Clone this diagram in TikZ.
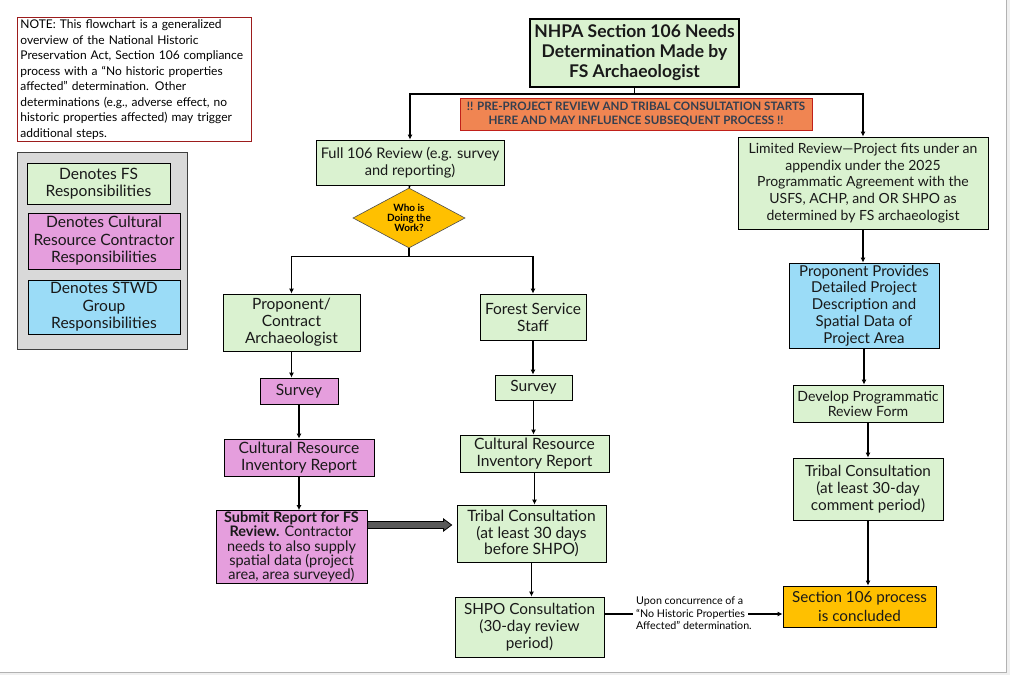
\documentclass[tikz,border=0pt]{standalone}
\usepackage{fontspec}
\setmainfont{Lato}
\usetikzlibrary{shapes.geometric,arrows.meta,calc}
\definecolor{fsgreen}{HTML}{DAF2D0}
\definecolor{crpink}{HTML}{E59EDD}
\definecolor{stblue}{HTML}{9BDCF7}
\definecolor{gold}{HTML}{FFC000}
\definecolor{bannerfill}{HTML}{F08552}
\definecolor{bannertxt}{HTML}{333F50}
\definecolor{bannerline}{HTML}{C0201A}
\definecolor{notered}{HTML}{9C1C1C}
\newcommand{\fsz}[2]{\fontsize{#1}{#2}\selectfont}
\begin{document}
\begin{tikzpicture}[x=1pt,y=-1pt,
  box/.style={draw=black, line width=0.8pt, align=center, inner sep=1pt, text=black!90},
  gbox/.style={box, fill=fsgreen},
  pbox/.style={box, fill=crpink},
  bbox/.style={box, fill=stblue},
  obox/.style={box, fill=gold},
  ln/.style={line width=1.5pt, draw=black},
  arr/.style={ln, -{Latex[length=5pt,width=5pt]}},
  sz/.style 2 args={minimum width=#1, minimum height=#2}
]
\useasboundingbox (0,0) rectangle (1010,675);
\fill[black!6] (0,0) rectangle (1010,675);
\fill[white] (0,0) rectangle (1006,672);
\draw[black!30, line width=1pt] (1006,0) -- (1006,672) -- (0,672);

% note
\node[draw=notered, line width=0.8pt, fill=white, anchor=north west, minimum width=234, minimum height=124, text width=228, inner xsep=3, inner ysep=0, align=left, font=\fsz{12}{15.5}] (note) at (17,17)
{NOTE: This flowchart is a generalized\\overview of the National Historic\\Preservation Act, Section 106 compliance\\process with a “No historic properties\\affected” determination. Other\\determinations (e.g., adverse effect, no\\historic properties affected) may trigger\\additional steps.};

% legend
\node[draw=black!75, fill=black!15, line width=0.8pt, anchor=north west, minimum width=170, minimum height=197, inner sep=0] (legend) at (17,152) {};
\node[gbox, sz={143}{41}, font=\fsz{15.6}{17.5}] (lg1) at (98.5,183.5) {Denotes FS\\Responsibilities};
\node[pbox, sz={152}{56}, font=\fsz{15.6}{17.5}] (lg2) at (104,241) {Denotes Cultural\\Resource Contractor\\Responsibilities};
\node[bbox, sz={152}{54}, font=\fsz{15.6}{17.5}] (lg3) at (104,307) {Denotes STWD\\Group\\Responsibilities};

% title and banner
\node[gbox, line width=2pt, sz={209}{68}, font=\bfseries\fsz{17.5}{20}] (title) at (634.5,53) {NHPA Section 106 Needs\\Determination Made by\\FS Archaeologist};
\node[box, draw=bannerline, fill=bannerfill, sz={352}{32}, text=bannertxt, font=\bfseries\fsz{11.6}{14.5}] (banner) at (636,114) {!! PRE-PROJECT REVIEW AND TRIBAL CONSULTATION STARTS\\HERE AND MAY INFLUENCE SUBSEQUENT PROCESS !!};

% left / middle branch
\node[gbox, sz={188}{45}, font=\fsz{14.6}{17}] (full) at (410,162.5) {Full 106 Review (e.g. survey\\and reporting)};
\node[diamond, draw=black!70, line width=0.6pt, fill=gold, minimum width=112, minimum height=60, inner sep=0, aspect=1.87, align=center, font=\bfseries\fsz{10}{9.8}] (dia) at (409,218) {Who is\\Doing the\\Work?};

\node[gbox, sz={137}{57}, font=\fsz{15.5}{17}] (prop) at (291.5,322.5) {Proponent/\\Contract\\Archaeologist};
\node[gbox, sz={106}{46}, font=\fsz{15.5}{17}] (fss) at (533,317) {Forest Service\\Staff};
\node[pbox, sz={78}{26}, font=\fsz{15.5}{17}] (survL) at (299,391) {Survey};
\node[gbox, sz={77}{25}, font=\fsz{15.5}{17}] (survR) at (533.5,387.5) {Survey};
\node[pbox, sz={150}{37}, font=\fsz{15.6}{16.5}] (crirL) at (299,457.5) {Cultural Resource\\Inventory Report};
\node[gbox, sz={149}{37}, font=\fsz{15.6}{16.5}] (crirR) at (534.5,453.5) {Cultural Resource\\Inventory Report};
\node[pbox, sz={151}{72}, font=\fsz{14.5}{14.4}] (submit) at (291.5,547) {\textbf{Submit Report for FS}\\\textbf{Review.} Contractor\\needs to also supply\\spatial data (project\\area, area surveyed)};
\node[gbox, sz={149}{57}, font=\fsz{15.6}{16.5}] (tribM) at (531.5,533.5) {Tribal Consultation\\(at least 30 days\\before SHPO)};
\node[gbox, sz={149}{60}, font=\fsz{15.3}{17}] (shpo) at (529.5,627) {SHPO Consultation\\(30-day review\\period)};
\node[obox, sz={153}{41}, font=\fsz{15.2}{19}] (concl) at (859.5,606.5) {Section 106 process\\is concluded};

% right branch
\node[gbox, sz={250}{92}, font=\fsz{14}{16.7}] (limited) at (863,183) {Limited Review—Project fits under an\\appendix under the 2025\\Programmatic Agreement with the\\USFS, ACHP, and OR SHPO as\\determined by FS archaeologist};
\node[bbox, sz={150}{85}, font=\fsz{15}{16.7}] (ppd) at (864,305.5) {Proponent Provides\\Detailed Project\\Description and\\Spatial Data of\\Project Area};
\node[gbox, sz={150}{37}, font=\fsz{14.1}{15}] (dev) at (868,403.5) {Develop Programmatic\\Review Form};
\node[gbox, sz={150}{62}, font=\fsz{15.3}{16.7}] (tribR) at (868,489) {Tribal Consultation\\(at least 30-day\\comment period)};

% label
\node[anchor=west, align=left, inner sep=0, font=\fsz{10.7}{12.5}] (lbl) at (636,613.5) {Upon concurrence of a\\“No Historic Properties\\Affected” determination.};

% connectors
\coordinate (t1) at ($(title.south)+(0,6)$);
\draw[ln] (title.south) -- (t1);
\draw[arr] (t1) -| (full.north);
\draw[arr] (t1) -| (limited.north);
\draw[ln] (full.south) -- (dia.north);
\coordinate (d1) at ($(dia.south)+(0,8)$);
\draw[ln] (dia.south) -- (d1);
\draw[arr] (d1) -| (prop.north);
\draw[arr] (d1) -| (fss.north);
\draw[arr] (prop.south) -- (prop.south |- survL.north);
\draw[arr] (crirL.north |- survL.south) -- (crirL.north);
\draw[arr] (crirL.south) -- (crirL.south |- submit.north);
\draw[arr] (fss.south) -- (fss.south |- survR.north);
\draw[arr] (survR.south) -- (survR.south |- crirR.north);
\draw[arr] (crirR.south) -- (crirR.south |- tribM.north);
\draw[arr] (tribM.south) -- (tribM.south |- shpo.north);
\draw[arr] (limited.south) -- (limited.south |- ppd.north);
\draw[arr] (ppd.south) -- (ppd.south |- dev.north);
\draw[arr] (dev.south) -- (dev.north |- tribR.north);
\draw[arr] (tribR.south) -- (concl.north -| tribR.south);

% block arrow submit -> tribal
\coordinate (by) at (0,525);
\draw[fill=black!65, line width=0.8pt, line join=miter]
  ($(submit.east|-by)+(0,-3.5)$) -- ($(tribM.west|-by)+(-13,-3.5)$) -- ($(tribM.west|-by)+(-13,-6)$)
  -- ($(tribM.west|-by)+(-5,0)$) -- ($(tribM.west|-by)+(-13,6)$) -- ($(tribM.west|-by)+(-13,3.5)$)
  -- ($(submit.east|-by)+(0,3.5)$) -- cycle;

% SHPO -> concluded
\coordinate (ly) at (0,614);
\draw[ln] (shpo.east|-ly) -- ($(lbl.west|-ly)+(-3,0)$);
\draw[arr] ($(lbl.west|-ly)+(112,0)$) -- (concl.west|-ly);
\end{tikzpicture}
\end{document}
